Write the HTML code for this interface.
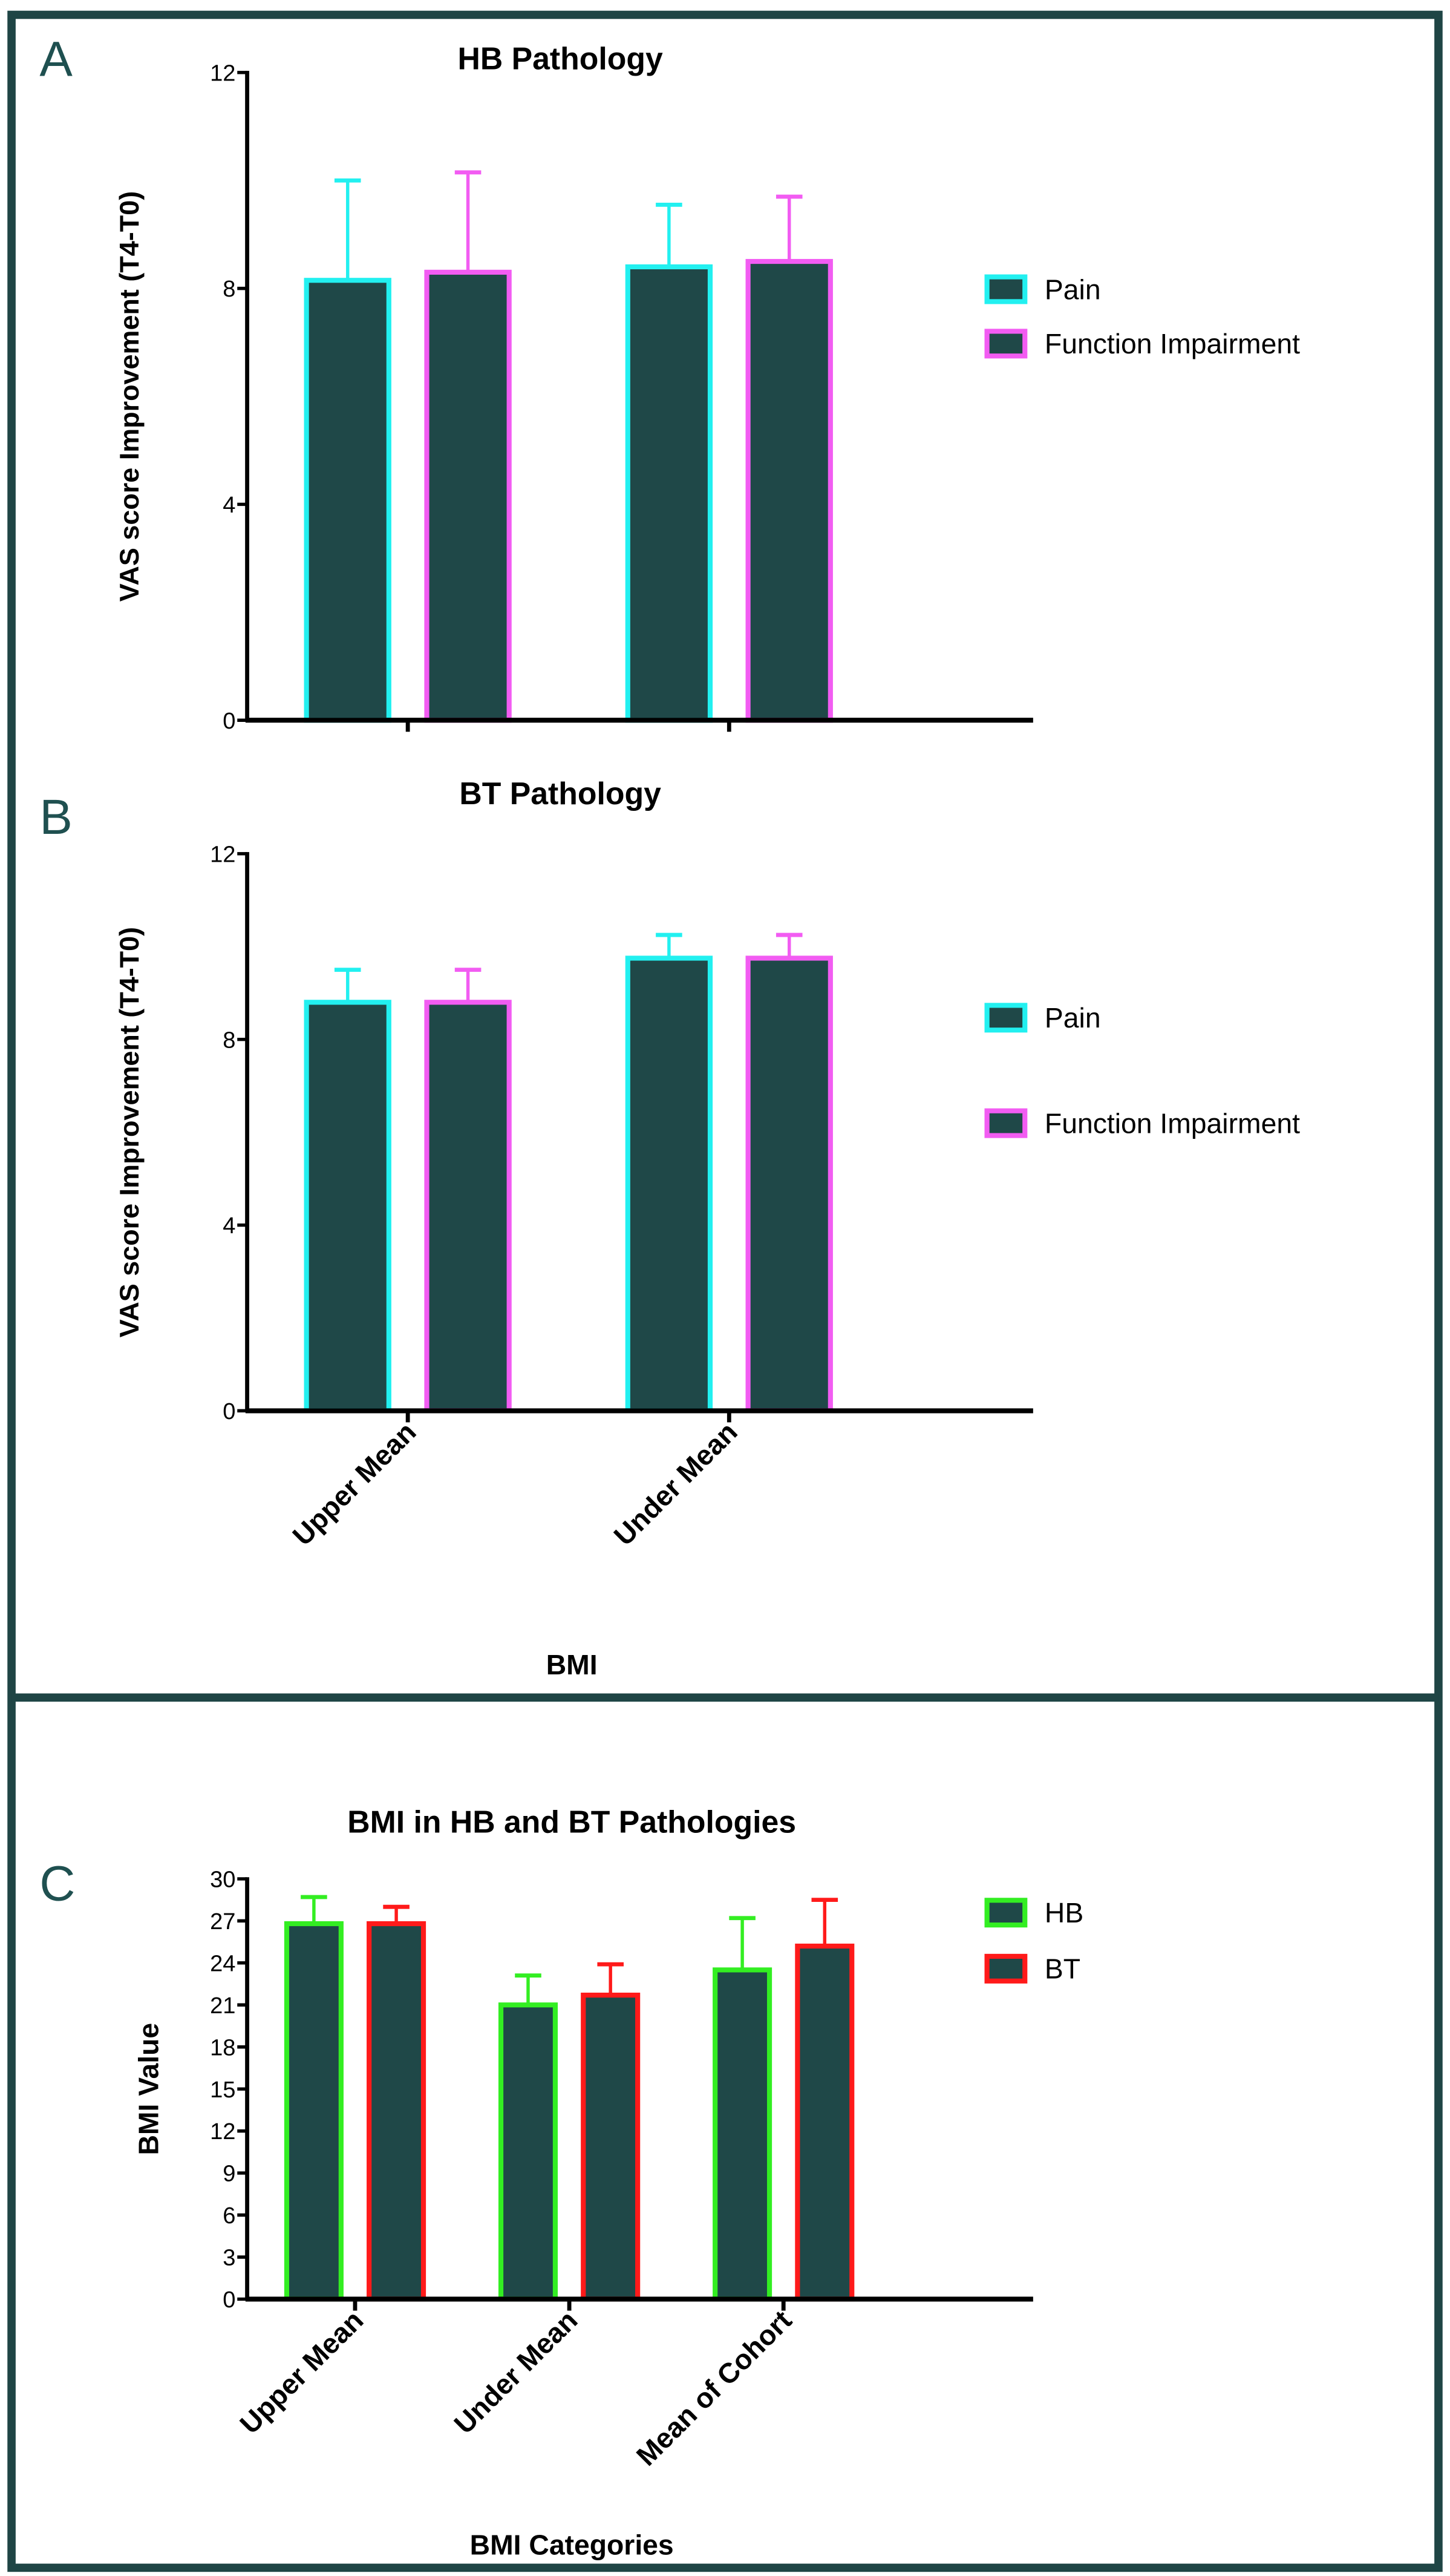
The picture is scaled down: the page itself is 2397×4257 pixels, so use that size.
<!DOCTYPE html>
<html><head><meta charset="utf-8"><style>
html,body{margin:0;padding:0;background:#fff;}
svg{display:block;}
text{font-family:"Liberation Sans",sans-serif;}
</style></head><body>
<svg id="fig" width="2397" height="4257" viewBox="0 0 880 1563" preserveAspectRatio="none" xmlns="http://www.w3.org/2000/svg">
<rect x="0" y="0" width="880" height="1563" fill="#fff"/>
<rect x="7" y="9" width="866" height="1549" fill="none" stroke="#1f4545" stroke-width="5"/>
<line x1="7" y1="1030" x2="873" y2="1030" stroke="#1f4545" stroke-width="5"/>
<g id="charts"></g>
</svg>
<script>
// Panel A data
const catsA = ["", ""];
const painA = [8.15, 8.4];
const painErrA = [1.85, 1.15];
const funcA = [8.3, 8.5];
const funcErrA = [1.85, 1.2];
// Panel B data
const catsB = ["Upper Mean", "Under Mean"];
const painB = [8.8, 9.75];
const painErrB = [0.7, 0.5];
const funcB = [8.8, 9.75];
const funcErrB = [0.7, 0.5];
const ticksAB = [0, 4, 8, 12];
// Panel C data
const catsC = ["Upper Mean", "Under Mean", "Mean of Cohort"];
const hbC = [26.8, 21.0, 23.5];
const hbErrC = [1.9, 2.1, 3.7];
const btC = [26.8, 21.7, 25.2];
const btErrC = [1.2, 2.2, 3.3];
const ticksC = [0, 3, 6, 9, 12, 15, 18, 21, 24, 27, 30];

const NS = "http://www.w3.org/2000/svg";
const root = document.getElementById("charts");
function el(tag, attrs, parent, txt) {
  const e = document.createElementNS(NS, tag);
  for (const k in attrs) e.setAttribute(k, attrs[k]);
  if (txt !== undefined) e.textContent = txt;
  (parent || root).appendChild(e);
  return e;
}
const FILL = "#1f4848";

function chart(o) {
  const g = el("g", {});
  
  
  const x0 = 150, x1 = 627;
  const yS = v => o.yBase - (v - o.yMin) / (o.yMax - o.yMin) * (o.yBase - o.yTop);
  const L = el("text", {x: 24, y: o.letterY, "font-size": 30, fill: "#1f5050"}, g, o.letter);
  
  
  const T = el("text", {x: o.titleX, y: o.titleY, "font-size": 19, "font-weight": "bold", "text-anchor": "middle", fill: "#000"}, g, o.title);
  
  
  const ya = el("line", {x1: x0, y1: o.yTop - 1, x2: x0, y2: o.yBase + 1, stroke: "#000", "stroke-width": 2.5}, g);
  
  
  o.ticks.forEach(t => {
    const y = yS(t);
    el("line", {x1: x0 - 6, y1: y, x2: x0, y2: y, stroke: "#000", "stroke-width": 2}, g);
    const tl = el("text", {x: x0 - 7, y: y + 5, "font-size": 14, "text-anchor": "end", fill: "#000"}, g, String(t));
    
    
  });
  const yl = el("text", {x: 0, y: 0, "font-size": o.yLabelSize, "font-weight": "bold", "text-anchor": "middle", fill: "#000", transform: `translate(${o.yLabelX},${(o.yTop + o.yBase) / 2}) rotate(-90)`}, g, o.yLabel);
  
  
  o.series.forEach((s, si) => {
    o.cats.forEach((c, i) => {
      const bx = o.groupStart + i * o.groupStep + si * o.barStep;
      const yv = yS(s.vals[i]);
      const ye = yS(s.vals[i] + s.errs[i]);
      const cx = bx + o.barW / 2;
      const eb = el("line", {x1: cx, y1: ye, x2: cx, y2: yv, stroke: s.color, "stroke-width": 2}, g);
      
      
      el("line", {x1: cx - 8, y1: ye, x2: cx + 8, y2: ye, stroke: s.color, "stroke-width": 2.5}, g);
      const b = el("rect", {x: bx, y: yv, width: o.barW, height: o.yBase - yv, fill: FILL, stroke: s.color, "stroke-width": 3}, g);
      
      
    });
  });
  const xa = el("line", {x1: x0 - 1, y1: o.yBase, x2: x1, y2: o.yBase, stroke: "#000", "stroke-width": 3}, g);
  
  
  o.cats.forEach((c, i) => {
    const tx = o.groupStart + i * o.groupStep + (o.barStep + o.barW) / 2;
    el("line", {x1: tx, y1: o.yBase, x2: tx, y2: o.yBase + 7, stroke: "#000", "stroke-width": 2.5}, g);
    if (c) {
      const xl = el("text", {x: 0, y: 0, "font-size": 17, "font-weight": "bold", "text-anchor": "end", fill: "#000", transform: `translate(${tx + 6},${o.yBase + 14}) rotate(-45)`}, g, c);
      
      
    }
  });
  if (o.xLabel) {
    const xt = el("text", {x: 347, y: o.xLabelY, "font-size": 17, "font-weight": "bold", "text-anchor": "middle", fill: "#000"}, g, o.xLabel);
    
    
  }
  o.series.forEach((s, si) => {
    const ly = o.legendY + si * o.legendStep;
    const sw = el("rect", {x: 599, y: ly, width: 23, height: o.swH, fill: FILL, stroke: s.color, "stroke-width": 3}, g);
    
    
    const lt = el("text", {x: 634, y: ly + o.swH / 2 + 6, "font-size": 17, fill: "#000"}, g, s.label);
    
    
  });
}

chart({name: "chart-hb-pathology", letter: "A", letterY: 46, title: "HB Pathology", titleX: 340, titleY: 42,
  yTop: 44, yBase: 437, yMin: 0, yMax: 12, ticks: ticksAB, yLabel: "VAS score Improvement (T4-T0)", yLabelX: 84, yLabelSize: 16.5,
  cats: catsA, groupStart: 186, groupStep: 195, barStep: 73, barW: 50,
  series: [{key: "pain", label: "Pain", color: "#22f0f0", vals: painA, errs: painErrA},
           {key: "function", label: "Function Impairment", color: "#f25cf2", vals: funcA, errs: funcErrA}],
  legendY: 168, legendStep: 33, swH: 15});
chart({name: "chart-bt-pathology", letter: "B", letterY: 506, title: "BT Pathology", titleX: 340, titleY: 488,
  yTop: 518, yBase: 856, yMin: 0, yMax: 12, ticks: ticksAB, yLabel: "VAS score Improvement (T4-T0)", yLabelX: 84, yLabelSize: 16.5,
  cats: catsB, groupStart: 186, groupStep: 195, barStep: 73, barW: 50, xLabel: "BMI", xLabelY: 1016,
  series: [{key: "pain", label: "Pain", color: "#22f0f0", vals: painB, errs: painErrB},
           {key: "function", label: "Function Impairment", color: "#f25cf2", vals: funcB, errs: funcErrB}],
  legendY: 610, legendStep: 64, swH: 15});
chart({name: "chart-bmi", letter: "C", letterY: 1153, title: "BMI in HB and BT Pathologies", titleX: 347, titleY: 1112,
  yTop: 1140, yBase: 1395, yMin: 0, yMax: 30, ticks: ticksC, yLabel: "BMI Value", yLabelX: 96, yLabelSize: 17,
  cats: catsC, groupStart: 174, groupStep: 130, barStep: 50, barW: 33, xLabel: "BMI Categories", xLabelY: 1550,
  series: [{key: "hb", label: "HB", color: "#33ee22", vals: hbC, errs: hbErrC},
           {key: "bt", label: "BT", color: "#ff1a1a", vals: btC, errs: btErrC}],
  legendY: 1153, legendStep: 34, swH: 15});
</script>
</body></html>
